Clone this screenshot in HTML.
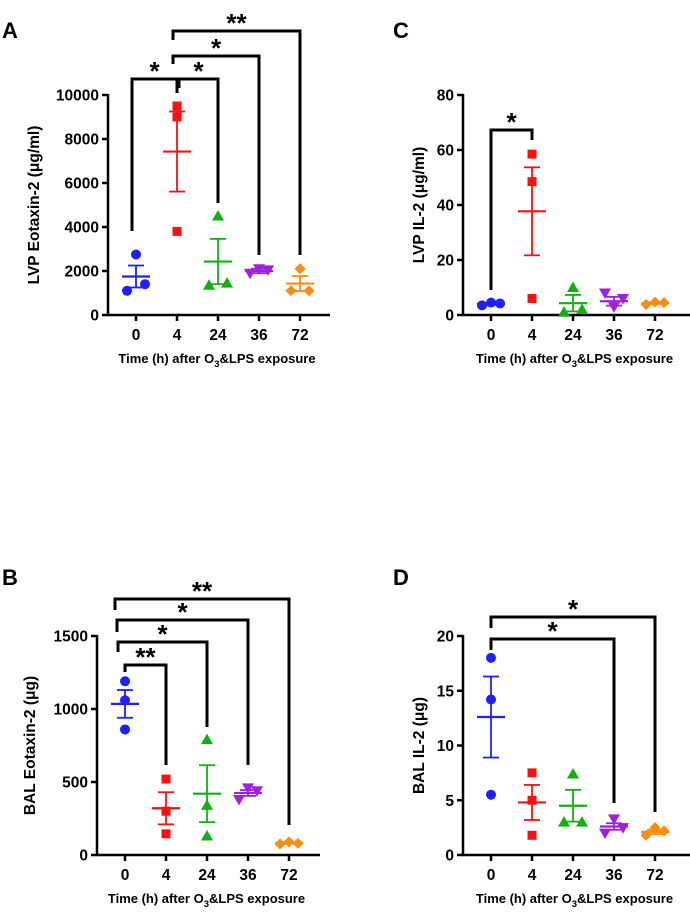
<!DOCTYPE html>
<html><head><meta charset="utf-8">
<style>
body{margin:0;background:#fff;}
svg{display:block;font-family:"Liberation Sans",Arial,sans-serif;font-weight:bold;}
</style></head>
<body>
<svg id="fig" width="690" height="921" viewBox="0 0 690 921" xmlns="http://www.w3.org/2000/svg"></svg>
<script>
const categories = ["0","4","24","36","72"];
const colors = ["#1f1fff","#ff1010","#10b010","#a020e0","#ff8c10"];
const markers = ["circle","square","triangle","tri-down","diamond"];

// Panel A: LVP Eotaxin-2
const aPoints = [[1100,2750,1400],[9500,9000,3800],[1350,4500,1450],[1900,2100,2050],[1100,2100,1100]];
const aMeans = [1750,7430,2430,2000,1430];
const aSem = [500,1820,1030,100,340];
const aTicks = [0,2000,4000,6000,8000,10000];
// Panel B: BAL Eotaxin-2
const bPoints = [[860,1190,1060],[145,520,300],[130,790,340],[380,460,440],[75,90,80]];
const bMeans = [1035,320,420,425,82];
const bSem = [95,110,195,20,5];
const bTicks = [0,500,1000,1500];
// Panel C: LVP IL-2
const cPoints = [[3.5,4.5,4.2],[6,58.5,48.5],[1,10,2],[8,3,6],[3.8,4.7,4.5]];
const cMeans = [4.1,37.7,4.3,5.0,4.3];
const cSem = [0.3,16,3,1.6,0.3];
const cTicks = [0,20,40,60,80];
// Panel D: BAL IL-2
const dPoints = [[5.5,18,14.2],[1.8,7.5,5],[3,7.4,3],[2,3.3,2.5],[1.8,2.5,2.2]];
const dMeans = [12.6,4.8,4.5,2.6,2.1];
const dSem = [3.7,1.6,1.45,0.3,0.2];
const dTicks = [0,5,10,15,20];

const NS="http://www.w3.org/2000/svg";
const svg=document.getElementById('fig');
function el(tag,attrs,parent){const e=document.createElementNS(NS,tag);for(const k in attrs)e.setAttribute(k,attrs[k]);(parent||svg).appendChild(e);return e;}
function txt(s,attrs,parent){const e=el('text',attrs,parent);e.textContent=s;return e;}

function marker(g,type,x,y,c){
  let e;
  if(type==='circle'){e=el('circle',{cx:x,cy:y,r:5,fill:c},g);}
  else if(type==='square'){e=el('rect',{x:x-4.5,y:y-4.5,width:9,height:9,fill:c},g);}
  else if(type==='triangle'){e=el('polygon',{points:`${x},${y-6} ${x-6},${y+4.5} ${x+6},${y+4.5}`,fill:c},g);}
  else if(type==='tri-down'){e=el('polygon',{points:`${x},${y+6} ${x-6},${y-4.5} ${x+6},${y-4.5}`,fill:c},g);}
  else {e=el('polygon',{points:`${x},${y-5.5} ${x+5.5},${y} ${x},${y+5.5} ${x-5.5},${y}`,fill:c},g);}
  
  
}

function panel(cfg){
  const g=el('g',{});
  
  
  const maxV=cfg.ticks[cfg.ticks.length-1];
  const yS=v=>cfg.y0-(v/maxV)*(cfg.y0-cfg.y1);
  const xS=i=>cfg.xc0+i*41;
  const L=txt(cfg.letter,{x:cfg.lx,y:cfg.ly,'font-size':22},g);
  
  
  const ya=el('line',{x1:cfg.ax,y1:cfg.y1-1,x2:cfg.ax,y2:cfg.y0,stroke:'#000','stroke-width':2.5},g);
  
  
  const xa=el('line',{x1:cfg.ax-1,y1:cfg.y0,x2:cfg.xend,y2:cfg.y0,stroke:'#000','stroke-width':2.5},g);
  
  
  cfg.ticks.forEach(t=>{
    const y=yS(t);
    el('line',{x1:cfg.ax-6,y1:y,x2:cfg.ax,y2:y,stroke:'#000','stroke-width':2.5},g);
    const tl=txt(String(t),{x:cfg.ax-9,y:y+5.5,'font-size':15.5,'text-anchor':'end'},g);
    
    
  });
  categories.forEach((c,i)=>{
    const x=xS(i);
    el('line',{x1:x,y1:cfg.y0,x2:x,y2:cfg.y0+6,stroke:'#000','stroke-width':2.5},g);
    const tl=txt(c,{x:x,y:cfg.y0+25,'font-size':15.5,'text-anchor':'middle'},g);
    
    
  });
  const xt=txt('',{x:(cfg.ax+cfg.xend)/2-2,y:cfg.y0+48,'font-size':13,'text-anchor':'middle'},g);
  xt.innerHTML='Time (h) after O<tspan font-size="9.5" dy="4">3</tspan><tspan dy="-4">&amp;LPS exposure</tspan>';
  
  
  const yt=txt(cfg.ytitle,{x:0,y:0,'font-size':15.5,'text-anchor':'middle',transform:`translate(${cfg.ytx},${(cfg.y0+cfg.y1)/2}) rotate(-90)`},g);
  
  
  cfg.points.forEach((pts,i)=>{
    const c=colors[i], x=xS(i), sp=cfg.spread[i];
    const m=yS(cfg.means[i]), hi=yS(cfg.means[i]+cfg.sem[i]), lo=yS(cfg.means[i]-cfg.sem[i]);
    const eg=el('g',{stroke:c,'stroke-width':1.8},g);
    
    
    el('line',{x1:x,y1:hi,x2:x,y2:lo},eg);
    el('line',{x1:x-8,y1:hi,x2:x+8,y2:hi},eg);
    el('line',{x1:x-8,y1:lo,x2:x+8,y2:lo},eg);
    el('line',{x1:x-14,y1:m,x2:x+14,y2:m,'stroke-width':2.2},eg);
    pts.forEach((v,j)=>marker(g,markers[i],x+(j-1)*sp,yS(v),c));
  });
  cfg.brackets.forEach(b=>{
    const x1=xS(b.from)+(b.dx1||0), x2=xS(b.to);
    const p=el('path',{d:`M${x1},${b.l} V${b.y} H${x2} V${b.r}`,fill:'none',stroke:'#000','stroke-width':3},g);
    
    
    const s=txt(b.s,{x:(x1+x2)/2,y:b.y+1,'font-size':26,'text-anchor':'middle'},g);
    
    
  });
}

panel({name:'panel-a',letter:'A',lx:2,ly:38,ax:108,xc0:136,xend:330,y0:315,y1:95,ticks:aTicks,
  points:aPoints,means:aMeans,sem:aSem,spread:[9,0,9,9,9],ytitle:'LVP Eotaxin-2 (\u03bcg/ml)',ytx:39,
  brackets:[{from:0,to:1,y:79,l:231,r:93,dx1:-4,s:'*'},{from:1,to:2,y:79,l:88,r:203,dx1:2,s:'*'},
            {from:1,to:3,y:56,l:64,r:255,dx1:-4,s:'*'},{from:1,to:4,y:31,l:40,r:255,dx1:-4,s:'**'}]});
panel({name:'panel-b',letter:'B',lx:2,ly:585,ax:97,xc0:125,xend:320,y0:855,y1:636,ticks:bTicks,
  points:bPoints,means:bMeans,sem:bSem,spread:[0,0,0,9,9],ytitle:'BAL Eotaxin-2 (\u03bcg)',ytx:35,
  brackets:[{from:0,to:1,y:665,l:672,r:765,s:'**'},{from:0,to:2,y:642,l:652,r:727,dx1:-7,s:'*'},
            {from:0,to:3,y:620,l:632,r:765,dx1:-8,s:'*'},{from:0,to:4,y:599,l:610,r:825,dx1:-10,s:'**'}]});
panel({name:'panel-c',letter:'C',lx:393,ly:38,ax:463,xc0:491,xend:690,y0:315,y1:95,ticks:cTicks,
  points:cPoints,means:cMeans,sem:cSem,spread:[9,0,9,9,9],ytitle:'LVP IL-2 (\u03bcg/ml)',ytx:424,
  brackets:[{from:0,to:1,y:130,l:290,r:140,s:'*'}]});
panel({name:'panel-d',letter:'D',lx:393,ly:585,ax:463,xc0:491,xend:690,y0:855,y1:636,ticks:dTicks,
  points:dPoints,means:dMeans,sem:dSem,spread:[0,0,9,9,9],ytitle:'BAL IL-2 (\u03bcg)',ytx:424,
  brackets:[{from:0,to:4,y:617,l:628,r:812,s:'*'},{from:0,to:3,y:639,l:650,r:803,s:'*'}]});
</script>
</body></html>
